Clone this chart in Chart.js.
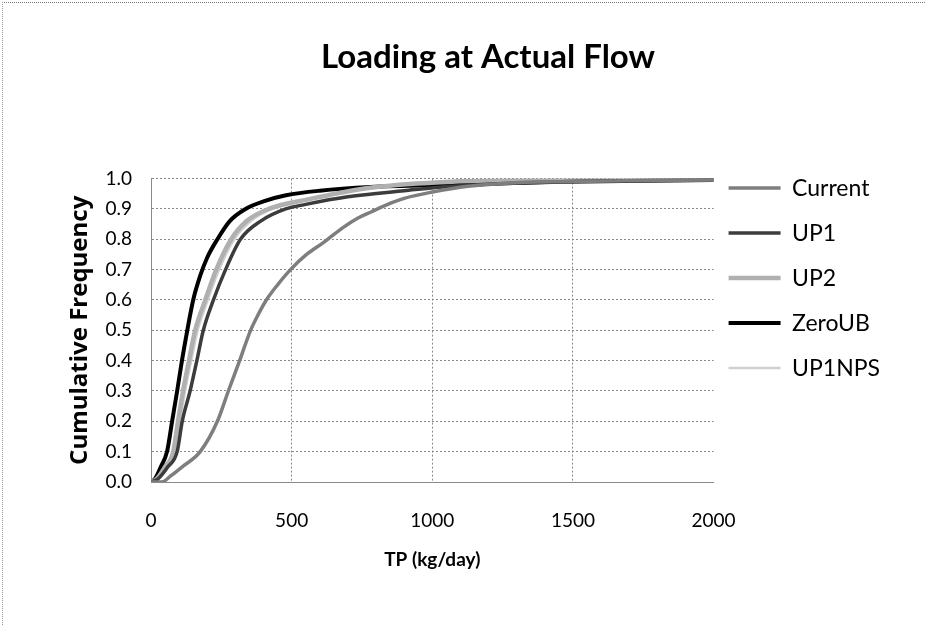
<!DOCTYPE html>
<html>
<head>
<meta charset="utf-8">
<script src="https://cdn.jsdelivr.net/npm/chart.js@4/dist/chart.umd.min.js"></script>
<style>
  html, body { margin: 0; padding: 0; background: #fff; }
  #quadro { position: relative; width: 925px; height: 625px; }
  #borda { position: absolute; left: 2px; top: 2px; right: 0; bottom: 0;
           border-top: 1px dotted #777; border-left: 1px dotted #999; pointer-events: none; }
  canvas { display: block; }
</style>
</head>
<body>
<div id="quadro">
  <canvas id="grafico" width="925" height="625"></canvas>
  <div id="borda"></div>
</div>
<script>
const SERIES = ['Current', 'UP1', 'UP2', 'ZeroUB', 'UP1NPS'];

const currentTp   = [0, 39, 70, 111, 175, 236, 275, 315, 354, 380, 410, 450, 496, 553, 614, 685, 736, 782, 854, 900, 996, 1128, 1264, 1460, 1700, 2000];
const currentFreq = [0, 0.0, 0.02, 0.05, 0.10, 0.20, 0.30, 0.40, 0.50, 0.55, 0.60, 0.65, 0.70, 0.75, 0.79, 0.84, 0.87, 0.89, 0.92, 0.935, 0.955, 0.975, 0.985, 0.99, 0.993, 0.995];

const up1Tp   = [0, 25, 60, 93, 111, 139, 163, 186, 222, 265, 318, 390, 479, 550, 700, 900, 1070, 1460, 2000];
const up1Freq = [0, 0.01, 0.05, 0.10, 0.20, 0.30, 0.40, 0.50, 0.60, 0.70, 0.80, 0.86, 0.90, 0.915, 0.94, 0.96, 0.975, 0.99, 0.995];

const up2Tp   = [0, 20, 50, 79, 96, 114, 135, 157, 193, 232, 285, 340, 418, 550, 780, 1070, 1460, 2000];
const up2Freq = [0, 0.01, 0.05, 0.10, 0.20, 0.30, 0.40, 0.50, 0.60, 0.70, 0.80, 0.86, 0.90, 0.93, 0.97, 0.99, 0.995, 1.0];

const zeroUbTp   = [0, 14, 35, 57, 75, 93, 110, 129, 150, 175, 200, 236, 280, 336, 400, 480, 600, 780, 1070, 1460, 2000];
const zeroUbFreq = [0, 0.01, 0.05, 0.10, 0.20, 0.30, 0.40, 0.50, 0.60, 0.68, 0.74, 0.80, 0.86, 0.90, 0.925, 0.945, 0.96, 0.972, 0.98, 0.99, 0.995];

const up1npsTp   = [0, 22, 55, 85, 103, 121, 143, 166, 202, 242, 296, 355, 432, 560, 780, 1070, 1460, 2000];
const up1npsFreq = [0, 0.01, 0.05, 0.10, 0.20, 0.30, 0.40, 0.50, 0.60, 0.70, 0.80, 0.86, 0.90, 0.93, 0.97, 0.985, 0.995, 1.0];

const xTicks = [0, 500, 1000, 1500, 2000];

const CORES = ['#7e7e7e', '#3c3c3c', '#b0b0b0', '#000000', '#d0d0d0'];
const ESPESSURAS = [3.5, 3.5, 4.5, 4, 2.5];

function pontos(xs, ys) {
    return xs.map((x, i) => ({ x: x, y: ys[i] }));
}

const pares = [
    pontos(currentTp, currentFreq),
    pontos(up1Tp, up1Freq),
    pontos(up2Tp, up2Freq),
    pontos(zeroUbTp, zeroUbFreq),
    pontos(up1npsTp, up1npsFreq),
];

const FONTE = 'Lato, "Open Sans", sans-serif';
const pontilhado = [2, 2];

// coloca legenda e titulo onde o Excel colocou
const ajusteLayout = {
    id: 'ajusteLayout',
    afterLayout(chart) {
        const area = chart.chartArea;
        const leg = chart.legend;
        const altura = leg.bottom - leg.top;
        leg.left = area.right - 7;
        leg.right = leg.left + leg.width;
        leg.top = area.top - 24;
        leg.bottom = leg.top + altura;

        const tit = chart.titleBlock;
        const dx = 488 - (tit.left + tit.right) / 2;
        tit.left += dx;
        tit.right += dx;
    },
};

new Chart(document.getElementById('grafico'), {
    type: 'scatter',
    data: {
        datasets: SERIES.map((nome, i) => ({
            label: nome,
            data: pares[i],
            showLine: true,
            borderColor: CORES[i],
            backgroundColor: CORES[i],
            borderWidth: ESPESSURAS[i],
            pointRadius: 0,
            pointStyle: 'line',
            cubicInterpolationMode: 'monotone',
        })),
    },
    options: {
        responsive: false,
        animation: false,
        layout: { padding: { left: 66, right: 28, top: 0, bottom: 54 } },
        scales: {
            x: {
                type: 'linear',
                min: 0,
                max: 2000,
                afterBuildTicks: (eixo) => { eixo.ticks = xTicks.map((v) => ({ value: v })); },
                afterFit: (eixo) => { eixo.height = 89; },
                ticks: {
                    color: '#000',
                    font: { family: FONTE, size: 19 },
                    padding: 27,
                    callback: (v) => String(v),
                },
                grid: {
                    color: (ctx) => (ctx.tick && ctx.tick.value === 2000 ? 'rgba(0,0,0,0)' : '#8a8a8a'),
                    drawTicks: false,
                },
                border: { color: '#8a8a8a', dash: pontilhado },
                title: {
                    display: true,
                    text: 'TP (kg/day)',
                    color: '#000',
                    font: { family: FONTE, size: 19, weight: 'bold' },
                    padding: { top: 0, bottom: 0 },
                },
            },
            y: {
                min: 0,
                max: 1,
                afterFit: (eixo) => { eixo.width = 85; },
                ticks: {
                    stepSize: 0.1,
                    color: '#000',
                    font: { family: FONTE, size: 19 },
                    padding: 19,
                    callback: (v) => Number(v).toFixed(1),
                },
                grid: { color: '#8a8a8a', drawTicks: false },
                border: { color: '#8a8a8a', dash: pontilhado },
                title: {
                    display: true,
                    text: 'Cumulative Frequency',
                    color: '#000',
                    font: { family: '"Open Sans", Lato, sans-serif', size: 24, weight: 'bold' },
                    padding: { top: 0, bottom: 0 },
                },
            },
        },
        plugins: {
            title: {
                display: true,
                text: 'Loading at Actual Flow',
                color: '#000',
                font: { family: FONTE, size: 33, weight: 'bold' },
                padding: { top: 38, bottom: 101 },
            },
            legend: {
                position: 'right',
                align: 'start',
                fullSize: false,
                labels: {
                    usePointStyle: true,
                    pointStyle: 'line',
                    pointStyleWidth: 52,
                    color: '#000',
                    font: { family: FONTE, size: 23 },
                    padding: 22,
                },
            },
            tooltip: { enabled: false },
        },
    },
    plugins: [ajusteLayout],
});
</script>
</body>
</html>
